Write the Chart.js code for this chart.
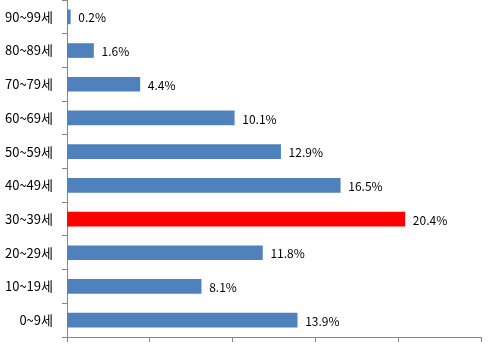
<!DOCTYPE html>
<html>
<head>
<meta charset="utf-8">
<script src="https://cdn.jsdelivr.net/npm/chart.js@4/dist/chart.umd.min.js"></script>
<style>
  html, body { margin: 0; padding: 0; background: #fff; }
  #wrap { width: 490px; height: 353px; }
</style>
</head>
<body>
<div id="wrap"><canvas id="c"></canvas></div>
<script>
// age groups, bottom to top
const ageGroups = ['0~9세', '10~19세', '20~29세', '30~39세', '40~49세', '50~59세', '60~69세', '70~79세', '80~89세', '90~99세'];
const shares = [13.9, 8.1, 11.8, 20.4, 16.5, 12.9, 10.1, 4.4, 1.6, 0.2];
const highlight = '30~39세';

const FONT = '"Noto Sans CJK KR", "Noto Sans", sans-serif';
const AXIS = '#868686';

// draw "x.x%" right of each bar
const valueLabels = {
    id: 'valueLabels',
    afterDatasetsDraw(chart) {
        const { ctx } = chart;
        const meta = chart.getDatasetMeta(0);
        ctx.save();
        ctx.font = '12px ' + FONT;
        ctx.fillStyle = '#000';
        ctx.textBaseline = 'middle';
        meta.data.forEach((bar, i) => {
            ctx.fillText(shares[i].toFixed(1) + '%', bar.x + 8, bar.y + 1);
        });
        ctx.restore();
    }
};

new Chart(document.getElementById('c'), {
    type: 'bar',
    data: {
        labels: ageGroups,
        datasets: [{
            data: shares,
            backgroundColor: ageGroups.map(a => a === highlight ? '#FF0000' : '#4F81BD'),
            barThickness: 14
        }]
    },
    options: {
        indexAxis: 'y',
        responsive: true,
        maintainAspectRatio: false,
        animation: false,
        layout: { autoPadding: false, padding: { top: 0, right: 9, left: 0, bottom: 0 } },
        plugins: { legend: { display: false }, tooltip: { enabled: false } },
        scales: {
            x: {
                min: 0,
                max: 25,
                ticks: { stepSize: 5, display: false },
                grid: { drawOnChartArea: false, tickLength: 5, color: AXIS },
                border: { color: AXIS },
                afterFit(s) { s.height = 16; }
            },
            y: {
                reverse: true,
                offset: true,
                ticks: { color: '#000', font: { size: 13, family: FONT }, padding: 9 },
                grid: { offset: true, drawOnChartArea: false, tickLength: 5, color: AXIS },
                border: { color: AXIS },
                // fixed width, and no extra room above/below for the labels
                afterFit(s) { s.width = 67; s.paddingTop = 0; s.paddingBottom = 0; }
            }
        }
    },
    plugins: [valueLabels]
});
</script>
</body>
</html>
